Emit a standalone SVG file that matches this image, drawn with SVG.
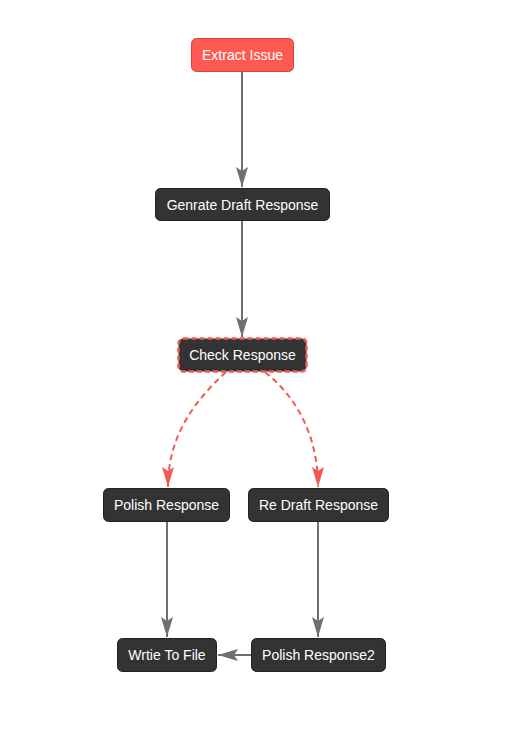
<svg xmlns="http://www.w3.org/2000/svg" width="508" height="734" viewBox="0 0 508 734">
<style>
.n rect{fill:#333333;stroke:#222222;stroke-width:1}
.n text{fill:#ffffff;font-family:"Liberation Sans",Arial,sans-serif;font-size:14px;text-anchor:middle;dominant-baseline:central}
.e{fill:none;stroke:#707070;stroke-width:2}
.d{fill:none;stroke:#f25a52;stroke-width:2;stroke-dasharray:6 4}
</style>
<defs>
<marker id="ag" viewBox="0 0 20 12" refX="20" refY="6" markerWidth="20" markerHeight="12" markerUnits="userSpaceOnUse" orient="auto">
<path d="M0,0 L20,6 L0,12 L4,6 Z" fill="#707070"/>
</marker>
<marker id="ar" viewBox="0 0 20 12" refX="20" refY="6" markerWidth="20" markerHeight="12" markerUnits="userSpaceOnUse" orient="auto">
<path d="M0,0 L20,6 L0,12 L4,6 Z" fill="#f25a52"/>
</marker>
</defs>
<rect width="508" height="734" fill="#ffffff"/>
<g id="connectors">
<path class="e" d="M242,72 L242,187" marker-end="url(#ag)"/>
<path class="e" d="M242,221 L242,337" marker-end="url(#ag)"/>
<path class="d" d="M226,372 C190,405 168,440 168,487" marker-end="url(#ar)"/>
<path class="d" d="M265,372 C300,400 318,440 318,487" marker-end="url(#ar)"/>
<path class="e" d="M167,522 L167,637" marker-end="url(#ag)"/>
<path class="e" d="M318,522 L318,637" marker-end="url(#ag)"/>
<path class="e" d="M251,655 L218,655" marker-end="url(#ag)"/>
</g>
<g id="extract_issue" class="n">
<rect x="191.5" y="38.5" width="102" height="33" rx="5" style="fill:#ff5a52;stroke:#d94038"/>
<text x="242.5" y="55">Extract Issue</text>
</g>
<g id="generate_draft" class="n">
<rect x="155.5" y="188.5" width="174" height="32" rx="5"/>
<text x="242.5" y="205">Genrate Draft Response</text>
</g>
<g id="check_response" class="n">
<rect x="178.5" y="338.5" width="128" height="33" rx="5" style="stroke:#f25a52;stroke-width:2.5;stroke-dasharray:5 3"/>
<text x="242.5" y="355">Check Response</text>
</g>
<g id="polish_response" class="n">
<rect x="103.5" y="488.5" width="126" height="33" rx="5"/>
<text x="166.5" y="505">Polish Response</text>
</g>
<g id="re_draft_response" class="n">
<rect x="248.5" y="488.5" width="140" height="33" rx="5"/>
<text x="318.5" y="505">Re Draft Response</text>
</g>
<g id="write_to_file" class="n">
<rect x="117.5" y="638.5" width="99" height="33" rx="5"/>
<text x="167" y="655">Wrtie To File</text>
</g>
<g id="polish_response2" class="n">
<rect x="251.5" y="638.5" width="134" height="33" rx="5"/>
<text x="318.5" y="655">Polish Response2</text>
</g>
</svg>
